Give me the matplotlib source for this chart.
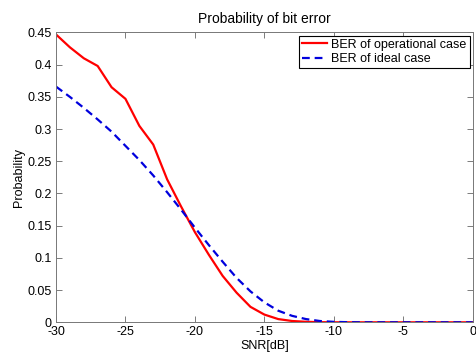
import matplotlib
matplotlib.use("Agg")
import matplotlib.pyplot as plt

plt.rcParams['font.family'] = ['Liberation Sans', 'DejaVu Sans']

snr_db = list(range(-30, 1))
ber_operational = [0.447, 0.427, 0.410, 0.398, 0.365, 0.347, 0.305, 0.276, 0.222, 0.180,
                   0.140, 0.105, 0.072, 0.046, 0.024, 0.012, 0.005, 0.002, 0.0008, 0.0002,
                   0.0, 0.0, 0.0, 0.0, 0.0, 0.0, 0.0, 0.0, 0.0, 0.0, 0.0]
ber_ideal = [0.366, 0.350, 0.333, 0.315, 0.296, 0.274, 0.252, 0.228, 0.202, 0.175,
             0.147, 0.120, 0.094, 0.069, 0.048, 0.031, 0.018, 0.010, 0.005, 0.002,
             0.0007, 0.0002, 0.0, 0.0, 0.0, 0.0, 0.0, 0.0, 0.0, 0.0, 0.0]
xticks = [-30, -25, -20, -15, -10, -5, 0]
yticks = [0, 0.05, 0.1, 0.15, 0.2, 0.25, 0.3, 0.35, 0.4, 0.45]
ytick_labels = ['0', '0.05', '0.1', '0.15', '0.2', '0.25', '0.3', '0.35', '0.4', '0.45']

fig = plt.figure(figsize=(4.76, 3.54), dpi=100)
ax = fig.add_axes([56/476, 1-322.3/354, (472.7-56)/476, (322.3-32.5)/354])

ax.plot(snr_db, ber_operational, color='#ff0000', lw=1.6, label='BER of operational case')
ax.plot(snr_db, ber_ideal, color='#0000dd', lw=1.6, ls=(0, (3.5, 2.2)), label='BER of ideal case')

ax.set_xlim(-30, 0)
ax.set_ylim(0, 0.45)
ax.set_xticks(xticks)
ax.set_xticklabels([str(t) for t in xticks])
ax.set_yticks(yticks)
ax.set_yticklabels(ytick_labels)
ax.tick_params(direction='in', top=True, right=True, length=4, width=0.6,
               color='#666666', labelsize=9, pad=3)
for s in ax.spines.values():
    s.set_color('#777777')
    s.set_linewidth(0.7)

ax.set_title('Probability of bit error', fontsize=10, pad=7)
ax.set_xlabel('SNR[dB]', fontsize=9, labelpad=1)
ax.set_ylabel('Probability', fontsize=9, labelpad=2)

leg = ax.legend(loc='upper right', fontsize=9, fancybox=False, framealpha=1,
                edgecolor='black', borderaxespad=0.25, handlelength=2.0,
                borderpad=0.25, labelspacing=0.2, handletextpad=0.3)
leg.get_frame().set_linewidth(0.8)

fig.savefig('out.png', dpi=100)
